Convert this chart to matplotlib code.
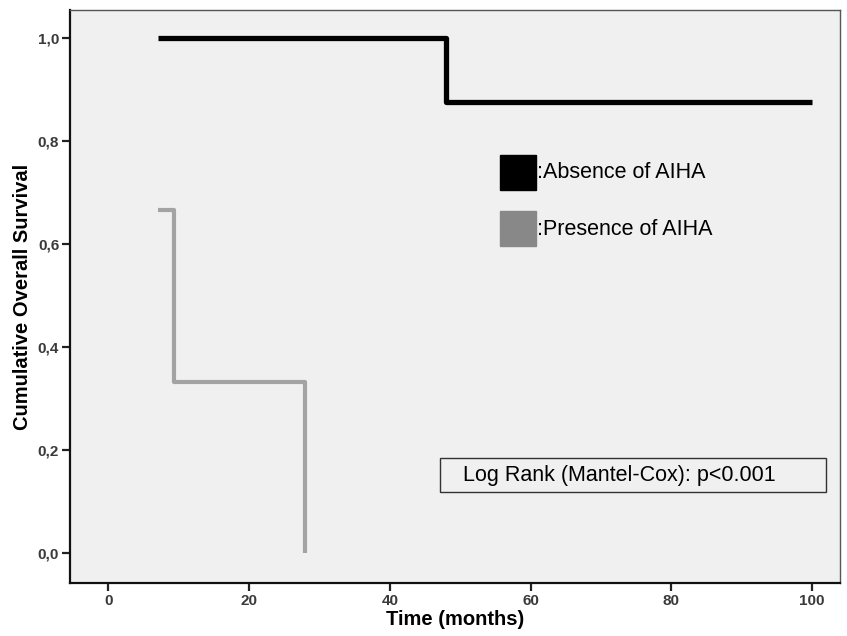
import matplotlib.pyplot as plt
from matplotlib.patches import Rectangle

# Kaplan-Meier step data
absence_t = [7, 48, 48, 100]
absence_s = [1.0, 1.0, 0.875, 0.875]
presence_t = [7, 9.3, 9.3, 28, 28]
presence_s = [0.667, 0.667, 0.333, 0.333, 0.0]

x_ticks = [0, 20, 40, 60, 80, 100]
y_ticks = [0.0, 0.2, 0.4, 0.6, 0.8, 1.0]
y_labels = ["0,0", "0,2", "0,4", "0,6", "0,8", "1,0"]

BG = "#f0f0f0"
GRAY = "#a3a3a3"

plt.rcParams['font.family'] = ['Liberation Sans', 'DejaVu Sans']

fig = plt.figure(figsize=(8.47, 6.36), dpi=100)
ax = fig.add_axes([0.083, 0.083, 0.909, 0.901])
ax.set_facecolor(BG)

ax.plot(absence_t, absence_s, color="black", lw=3.8, solid_capstyle="butt")
ax.plot(presence_t, presence_s, color=GRAY, lw=3.0, solid_capstyle="butt")

ax.set_xlim(-5.4, 104)
ax.set_ylim(-0.058, 1.054)
ax.set_xticks(x_ticks)
ax.set_yticks(y_ticks)
ax.set_yticklabels(y_labels)
ax.tick_params(labelsize=11, width=1.6, length=6, color="#222222", pad=2)
for lab in ax.get_xticklabels() + ax.get_yticklabels():
    lab.set_fontweight("bold")
    lab.set_color("#3a3a3a")

for side in ["top", "right"]:
    ax.spines[side].set_linewidth(1.0)
    ax.spines[side].set_color("#555555")
for side in ["left", "bottom"]:
    ax.spines[side].set_linewidth(1.6)
    ax.spines[side].set_color("#111111")

ax.set_xlabel("Time (months)", fontsize=14.5, fontweight="bold", labelpad=1)
ax.set_ylabel("Cumulative Overall Survival", fontsize=14.5, fontweight="bold", labelpad=4)

# legend as drawn boxes with text (axes coordinates)
ax.add_patch(Rectangle((0.558, 0.686), 0.047, 0.061, transform=ax.transAxes,
                       facecolor="black", edgecolor="black"))
ax.text(0.606, 0.716, ":Absence of AIHA", transform=ax.transAxes,
        fontsize=15.5, va="center", ha="left")
ax.add_patch(Rectangle((0.558, 0.588), 0.047, 0.061, transform=ax.transAxes,
                       facecolor="#888888", edgecolor="#888888"))
ax.text(0.606, 0.618, ":Presence of AIHA", transform=ax.transAxes,
        fontsize=15.5, va="center", ha="left")

# log rank box
ax.add_patch(Rectangle((0.480, 0.159), 0.502, 0.059, transform=ax.transAxes,
                       facecolor="none", edgecolor="#333333", lw=1.0))
ax.text(0.510, 0.188, "Log Rank (Mantel-Cox): p<0.001", transform=ax.transAxes,
        fontsize=15.5, va="center", ha="left")

fig.savefig("out.png", dpi=100)
